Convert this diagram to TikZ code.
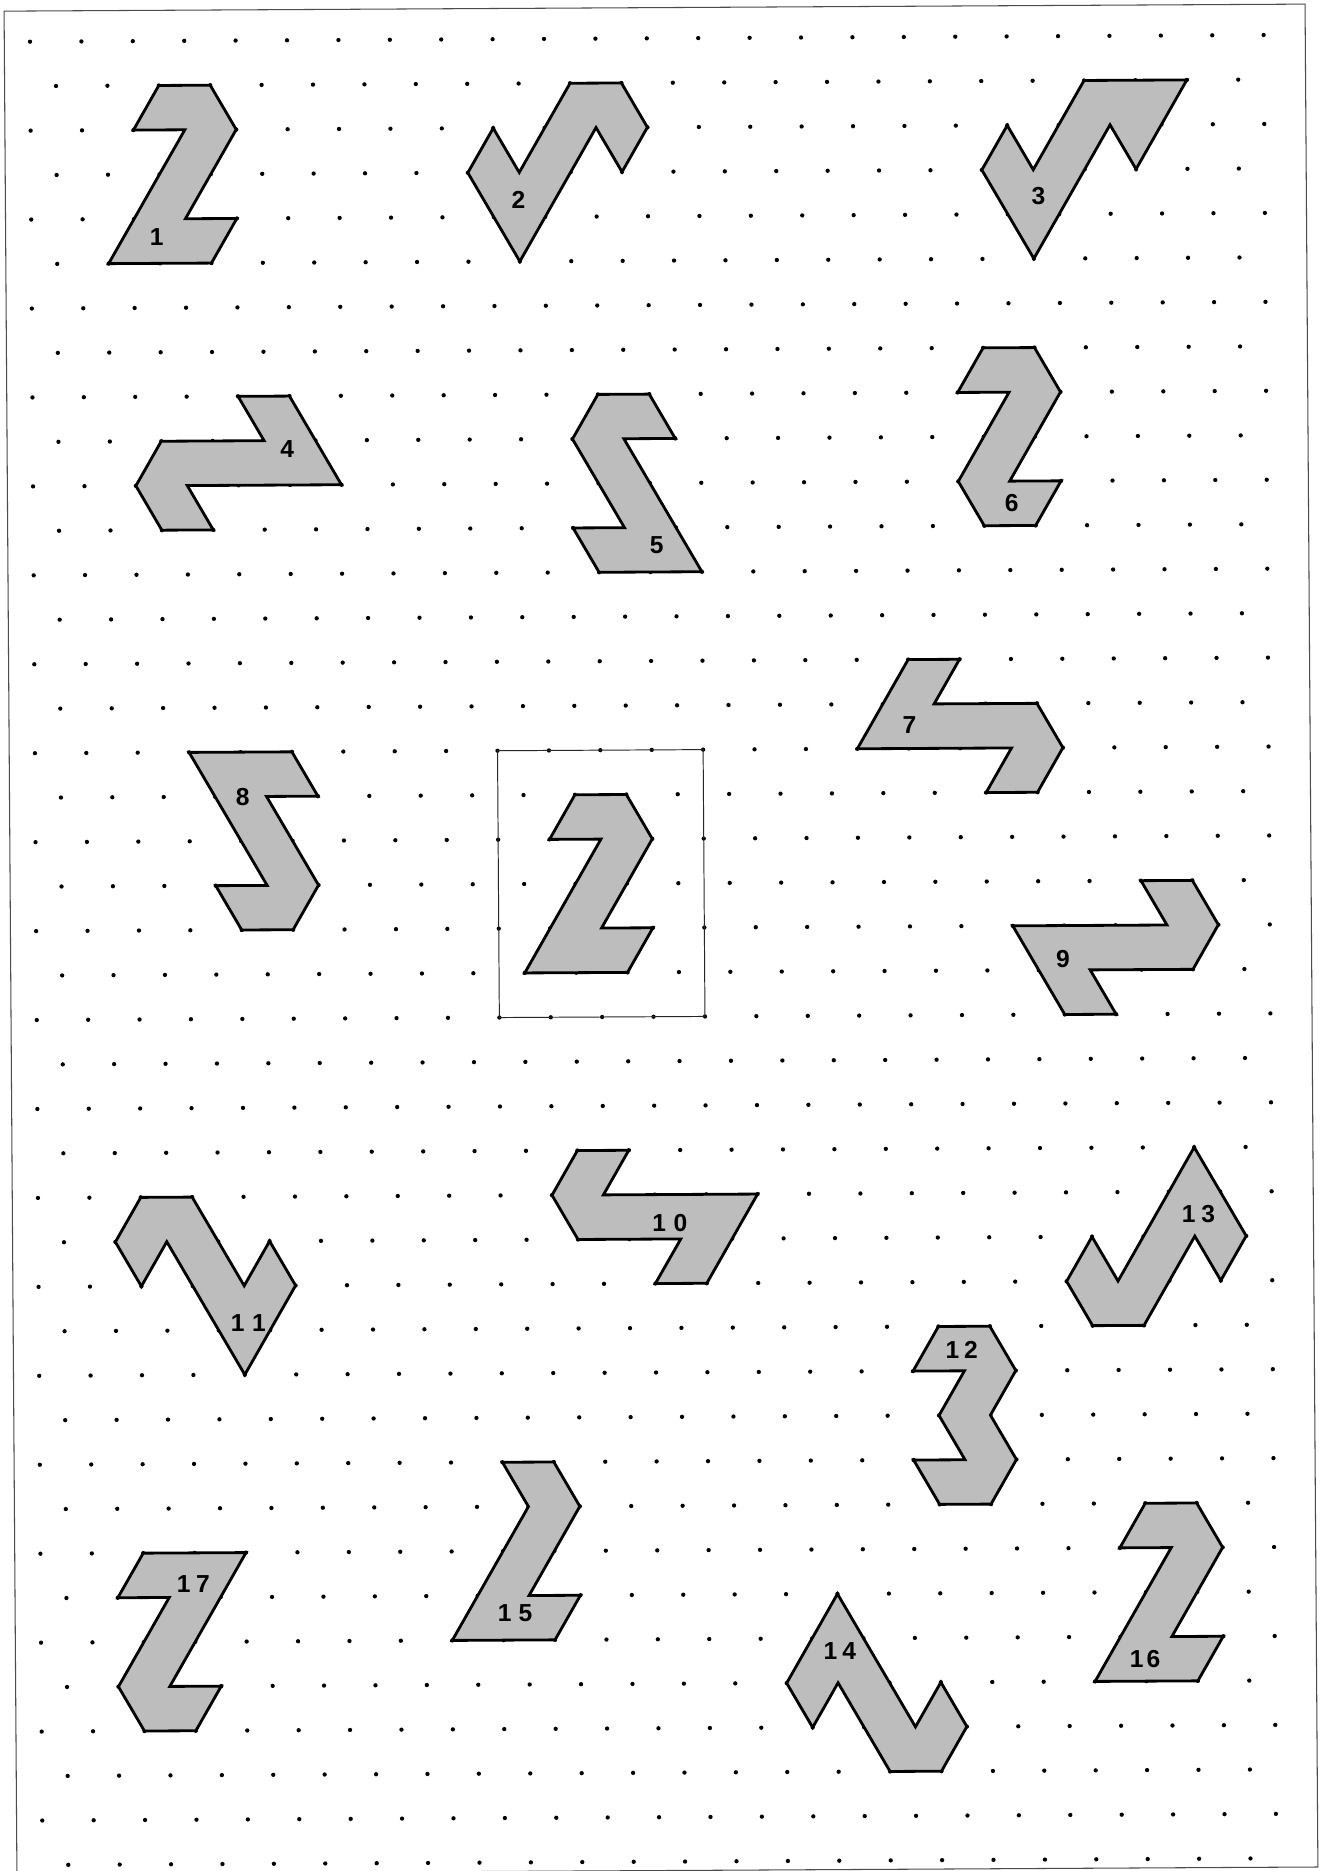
\documentclass[tikz,border=0pt]{standalone}
\usepackage{fontspec}
\setmainfont{Liberation Sans}
\definecolor{piecefill}{rgb}{0.74,0.74,0.74}
\tikzset{
  piece/.style={draw=black, fill=piecefill, line width=1.6pt, line join=miter},
  dotpt/.style={fill=black},
  boxline/.style={draw=black!85, line width=0.55pt},
  frameline/.style={draw=black!70, line width=0.6pt},
  lab/.style={inner sep=0pt, font=\fontsize{14pt}{16pt}\selectfont\bfseries}
}
\newcommand\twodig[3]{#1\kern#3#2}
\begin{document}
\begin{tikzpicture}
\fill[white] (0,0) rectangle (26.4cm,-37.42cm);
\useasboundingbox (0,0) rectangle (26.4cm,-37.42cm);
\begin{scope}[shift={(0.6cm,-0.834cm)}, x={(0.514cm,0.00278cm)}, y={(0.00614cm,-0.8894cm)}]
% frame
\draw[frameline] (-1.0,-0.69) -- (49.62,-0.69) -- (49.62,41.2) -- (-1.0,41.2) -- cycle;
% dot lattice
\foreach \rr in {0,2,...,40}{\foreach \cc in {0,2,...,48}{\fill[dotpt] (\cc,\rr) circle[radius=0.043cm];}}
\foreach \rr in {1,3,...,41}{\foreach \cc in {1,3,...,47}{\fill[dotpt] (\cc,\rr) circle[radius=0.043cm];}}
% reference box
\draw[boxline] (18,16) -- (26,16) -- (26,22) -- (18,22) -- cycle;
% pieces
\draw[piece] (5,1) -- (7,1) -- (8,2) -- (6,4) -- (8,4) -- (7,5) -- (3,5) -- (6,2) -- (4,2) -- cycle;
\draw[piece] (21,1) -- (23,1) -- (24,2) -- (23,3) -- (22,2) -- (19,5) -- (17,3) -- (18,2) -- (19,3) -- cycle;
\draw[piece] (41,1) -- (45,1) -- (43,3) -- (42,2) -- (39,5) -- (37,3) -- (38,2) -- (39,3) -- cycle;
\draw[piece] (8,8) -- (10,8) -- (12,10) -- (6,10) -- (7,11) -- (5,11) -- (4,10) -- (5,9) -- (9,9) -- cycle;
\draw[piece] (22,8) -- (24,8) -- (25,9) -- (23,9) -- (26,12) -- (22,12) -- (21,11) -- (23,11) -- (21,9) -- cycle;
\draw[piece] (37,7) -- (39,7) -- (40,8) -- (38,10) -- (40,10) -- (39,11) -- (37,11) -- (36,10) -- (38,8) -- (36,8) -- cycle;
\draw[piece] (34,14) -- (36,14) -- (35,15) -- (39,15) -- (40,16) -- (39,17) -- (37,17) -- (38,16) -- (32,16) -- cycle;
\draw[piece] (6,16) -- (10,16) -- (11,17) -- (9,17) -- (11,19) -- (10,20) -- (8,20) -- (7,19) -- (9,19) -- cycle;
\draw[piece] (21,17) -- (23,17) -- (24,18) -- (22,20) -- (24,20) -- (23,21) -- (19,21) -- (22,18) -- (20,18) -- cycle;
\draw[piece] (43,19) -- (45,19) -- (46,20) -- (45,21) -- (41,21) -- (42,22) -- (40,22) -- (38,20) -- (44,20) -- cycle;
\draw[piece] (21,25) -- (23,25) -- (22,26) -- (28,26) -- (26,28) -- (24,28) -- (25,27) -- (21,27) -- (20,26) -- cycle;
\draw[piece] (4,26) -- (6,26) -- (8,28) -- (9,27) -- (10,28) -- (8,30) -- (5,27) -- (4,28) -- (3,27) -- cycle;
\draw[piece] (35,29) -- (37,29) -- (38,30) -- (37,31) -- (38,32) -- (37,33) -- (35,33) -- (34,32) -- (36,32) -- (35,31) -- (36,30) -- (34,30) -- cycle;
\draw[piece] (45,25) -- (47,27) -- (46,28) -- (45,27) -- (43,29) -- (41,29) -- (40,28) -- (41,27) -- (42,28) -- cycle;
\draw[piece] (31,35) -- (34,38) -- (35,37) -- (36,38) -- (35,39) -- (33,39) -- (31,37) -- (30,38) -- (29,37) -- cycle;
\draw[piece] (18,32) -- (20,32) -- (21,33) -- (19,35) -- (21,35) -- (20,36) -- (16,36) -- (19,33) -- cycle;
\draw[piece] (43,33) -- (45,33) -- (46,34) -- (44,36) -- (46,36) -- (45,37) -- (41,37) -- (44,34) -- (42,34) -- cycle;
\draw[piece] (4,34) -- (8,34) -- (5,37) -- (7,37) -- (6,38) -- (4,38) -- (3,37) -- (5,35) -- (3,35) -- cycle;
% labels
\node[lab] (l1) at (4.88,4.4) {1};
\node[lab] (l2) at (18.96,3.62) {2};
\node[lab] (l3) at (39.2,3.6) {3};
\node[lab] (l4) at (9.9,9.2) {4};
\node[lab] (l5) at (24.25,11.4) {5};
\node[lab] (l6) at (38.07,10.49) {6};
\node[lab] (l7) at (34.03,15.47) {7};
\node[lab] (l8) at (8.07,17.0) {8};
\node[lab] (l9) at (39.94,20.75) {9};
\node[lab] (l10) at (24.58,26.64) {\twodig{1}{0}{0.15cm}};
\node[lab] (l11) at (8.15,28.83) {\twodig{1}{1}{0.15cm}};
\node[lab] (l12) at (35.9,29.52) {\twodig{1}{2}{0.1cm}};
\node[lab] (l13) at (45.15,26.5) {\twodig{1}{3}{0.12cm}};
\node[lab] (l14) at (31.08,36.29) {\twodig{1}{4}{0.1cm}};
\node[lab] (l15) at (18.45,35.4) {\twodig{1}{5}{0.14cm}};
\node[lab] (l16) at (42.95,36.5) {\twodig{1}{6}{0.06cm}};
\node[lab] (l17) at (5.94,34.7) {\twodig{1}{7}{0.11cm}};
\end{scope}
\end{tikzpicture}
\end{document}
